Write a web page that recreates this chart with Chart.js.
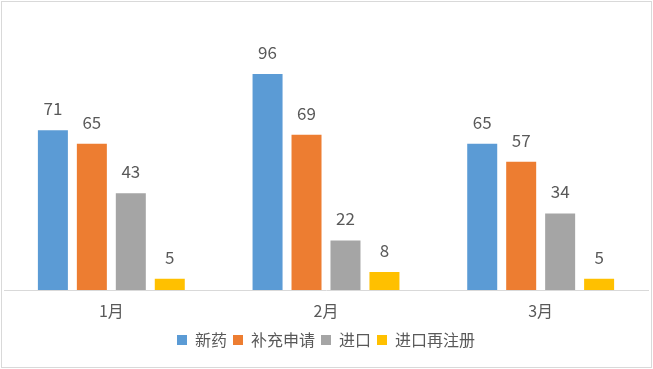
<!DOCTYPE html>
<html>
<head>
<meta charset="utf-8">
<script src="https://cdn.jsdelivr.net/npm/chart.js@4.4.1/dist/chart.umd.min.js"></script>
<style>
  html, body { margin: 0; padding: 0; background: #fff; }
  #wrap { width: 653px; height: 369px; position: relative; }
</style>
</head>
<body>
<div id="wrap"><canvas id="chart"></canvas></div>
<script>
const MONTHS = ['1月', '2月', '3月'];
const SERIES_NAMES = ['新药', '补充申请', '进口', '进口再注册'];
const NEW_DRUG = [71, 96, 65];
const SUPPLEMENT = [65, 69, 57];
const IMPORT = [43, 22, 34];
const IMPORT_REREG = [5, 8, 5];
const COLORS = ['#5B9BD5', '#ED7D31', '#A5A5A5', '#FFC000'];

const FONT = '"Noto Sans CJK SC", "Noto Sans", sans-serif';
const TEXT_COLOR = '#595959';

// value labels above each bar
const barLabels = {
    id: 'barLabels',
    afterDatasetsDraw(chart) {
        const ctx = chart.ctx;
        ctx.save();
        ctx.font = '17px ' + FONT;
        ctx.fillStyle = TEXT_COLOR;
        ctx.textAlign = 'center';
        ctx.textBaseline = 'bottom';
        chart.data.datasets.forEach((ds, i) => {
            chart.getDatasetMeta(i).data.forEach((bar, j) => {
                ctx.fillText(ds.data[j], bar.x, bar.y - 13);
            });
        });
        ctx.restore();
    }
};

// light outer frame like the spreadsheet chart box
const frame = {
    id: 'frame',
    afterDraw(chart) {
        const ctx = chart.ctx;
        ctx.save();
        ctx.strokeStyle = '#D9D9D9';
        ctx.lineWidth = 1;
        ctx.strokeRect(1.5, 1.5, chart.width - 3, chart.height - 3);
        ctx.restore();
    }
};

const data = [NEW_DRUG, SUPPLEMENT, IMPORT, IMPORT_REREG];

new Chart(document.getElementById('chart'), {
    type: 'bar',
    data: {
        labels: MONTHS,
        datasets: SERIES_NAMES.map((name, i) => ({
            label: name,
            data: data[i],
            backgroundColor: COLORS[i],
            borderWidth: 0,
            categoryPercentage: 0.726,
            barPercentage: 0.77
        }))
    },
    options: {
        responsive: true,
        maintainAspectRatio: false,
        animation: false,
        layout: { padding: { left: 4, right: 5, top: 20, bottom: 11 } },
        plugins: {
            tooltip: { enabled: false },
            legend: {
                position: 'bottom',
                labels: {
                    color: TEXT_COLOR,
                    font: { family: FONT, size: 16 },
                    boxWidth: 10,
                    boxHeight: 10,
                    padding: 6
                }
            }
        },
        scales: {
            x: {
                grid: { display: false, drawTicks: false },
                border: { display: true, color: '#D9D9D9' },
                ticks: { color: TEXT_COLOR, font: { family: FONT, size: 16 }, padding: 11 },
                // padding counts below the labels too; trim it so the legend sits closer
                afterFit(scale) { scale.height = 36; }
            },
            y: {
                display: false,
                min: 0,
                max: 120
            }
        }
    },
    plugins: [barLabels, frame]
});
</script>
</body>
</html>
